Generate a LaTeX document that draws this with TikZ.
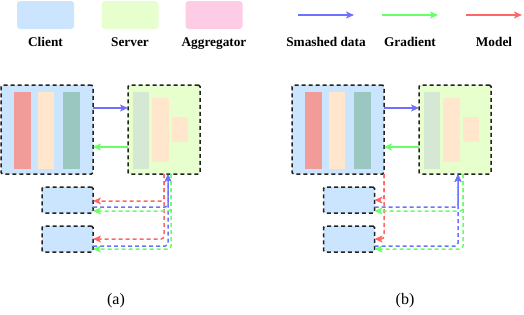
\documentclass[tikz,border=0pt]{standalone}
\usepackage{fontspec}
\setmainfont{Liberation Serif}
\usetikzlibrary{arrows.meta,positioning,calc}
\definecolor{clientFill}{HTML}{CCE5FF}
\definecolor{serverFill}{HTML}{E6FFCC}
\definecolor{aggFill}{HTML}{FFCCE6}
\definecolor{boxEdge}{HTML}{222222}
\definecolor{layerRed}{HTML}{F19C99}
\definecolor{layerOrange}{HTML}{FFE6CC}
\definecolor{layerTeal}{HTML}{9AC7BF}
\definecolor{layerGray}{HTML}{D5E8D4}
\definecolor{smashBlue}{HTML}{7070FF}
\definecolor{gradGreen}{HTML}{66FF66}
\definecolor{modelRed}{HTML}{FF6666}

\begin{document}
\begin{tikzpicture}[
    x=1pt,y=-1pt,
    >={Stealth[length=8pt,width=7pt,inset=2pt]},
    every node/.style={inner sep=0pt,outer sep=0pt},
    legbox/.style={rounded corners=3pt,minimum width=57pt,minimum height=28pt},
    leglabel/.style={anchor=base,font=\fontsize{13.3}{15}\selectfont\bfseries},
    party/.style={draw=boxEdge,line width=1.5pt,dash pattern=on 4pt off 3pt,rounded corners=1.5pt},
    bigclient/.style={party,fill=clientFill,minimum width=92pt,minimum height=89pt},
    smallclient/.style={party,fill=clientFill,minimum width=51pt,minimum height=26pt},
    server/.style={party,fill=serverFill,minimum width=72pt,minimum height=89pt},
    layer/.style={minimum width=16.5pt},
    smashed/.style={->,draw=smashBlue,line width=1.5pt},
    gradient/.style={->,draw=gradGreen,line width=1.5pt},
    model/.style={->,draw=modelRed,line width=1.5pt},
    route/.style={line width=1.3pt,dash pattern=on 4pt off 3pt,rounded corners=3pt}
  ]
  \useasboundingbox (0,0) rectangle (524,314);

  %% Legend
  \node[legbox,fill=clientFill] (lgClient) at (45.5,15) {};
  \node[legbox,fill=serverFill] (lgServer) at (130,15) {};
  \node[legbox,fill=aggFill] (lgAgg) at (214,15) {};
  \node[leglabel] at (45.5,46.5) {Client};
  \node[leglabel] at (130,46.5) {Server};
  \node[leglabel] at (214,46.5) {Aggregator};
  \foreach \st/\xa/\xb/\txt in {smashed/298/354/Smashed data, gradient/382/438/Gradient, model/466/522/Model}{
    \coordinate (\st L) at (\xa,15);
    \coordinate (\st R) at (\xb,15);
    \draw[\st] (\st L) -- (\st R);
    \node[leglabel] at ({(\xa+\xb)/2},46.5) {\txt};
  }

  %% Both panels: clients, server, layers
  \foreach \p/\cx/\sx/\kx/\lx/\cap in {A/47/164/67.5/116/a, B/338/455/349/405/b}{
    \node[bigclient] (cli\p) at (\cx,129.5) {};
    \node[layer,fill=layerRed,minimum height=77pt] at (\cx-24.5,130.5) {};
    \node[layer,fill=layerOrange,minimum height=77pt] at (\cx-1,130.5) {};
    \node[layer,fill=layerTeal,minimum height=77pt] at (\cx+24.5,130.5) {};
    \node[server] (srv\p) at (\sx,129.5) {};
    \node[layer,fill=layerGray,minimum height=77pt] at (\sx-22.8,130.5) {};
    \node[layer,fill=layerOrange,minimum height=64pt] at (\sx-3.5,130) {};
    \node[layer,fill=layerOrange,minimum height=25pt] at (\sx+15.8,129.5) {};
    \node[smallclient] (cli\p1) at (\kx,200) {};
    \node[smallclient] (cli\p2) at (\kx,239) {};
    \draw[smashed] ([yshift=21.5pt]cli\p.east) -- ([yshift=21.5pt]srv\p.west);
    \draw[gradient] ([yshift=-17.5pt]srv\p.west) -- ([yshift=-17.5pt]cli\p.east);
    \node[anchor=base,font=\fontsize{16}{18}\selectfont] (cap\p) at (\lx,304) {(\cap)};
  }

  %% (a) server sends model, gradients; clients send smashed data
  \draw[route,model] (srvA.south) |- ([yshift=-1pt]cliA1.east);
  \draw[route,model] (srvA.south) |- (cliA2.east);
  \draw[route,smashed] ([yshift=-7pt]cliA1.east) -| ([xshift=4pt]srvA.south);
  \draw[route,smashed] ([yshift=-7pt]cliA2.east) -| ([xshift=4pt]srvA.south);
  \draw[route,gradient] ([xshift=7pt]srvA.south) |- ([yshift=-11pt]cliA1.east);
  \draw[route,gradient] ([xshift=7pt]srvA.south) |- ([yshift=-10pt]cliA2.east);

  %% (b) model handed from client to client
  \draw[route,model] (cliB.south east) |- (cliB1.east);
  \draw[route,model] (cliB.south east) |- (cliB2.east);
  \draw[route,smashed] ([yshift=-7pt]cliB1.east) -| ([xshift=3pt]srvB.south);
  \draw[route,smashed] ([yshift=-7pt]cliB2.east) -| ([xshift=3pt]srvB.south);
  \draw[route,gradient] ([xshift=8pt]srvB.south) |- ([yshift=-11pt]cliB1.east);
  \draw[route,gradient] ([xshift=8pt]srvB.south) |- ([yshift=-10pt]cliB2.east);
\end{tikzpicture}
\end{document}
